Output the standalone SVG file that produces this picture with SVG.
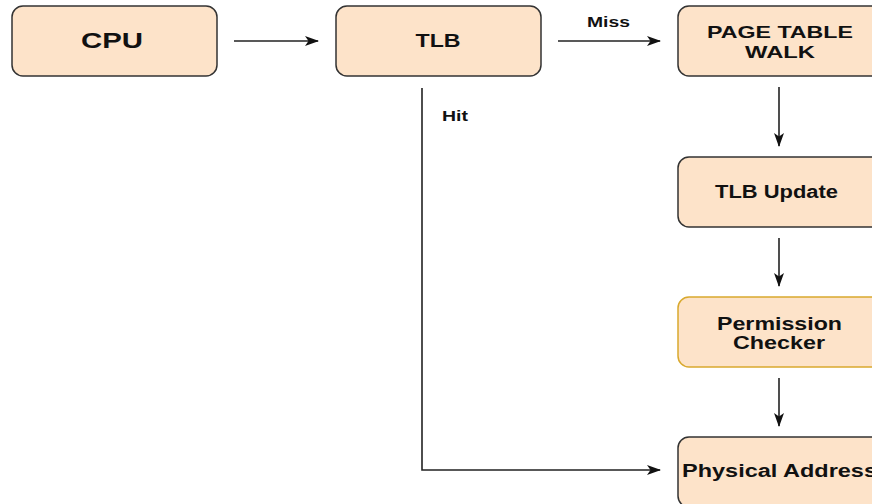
<svg xmlns="http://www.w3.org/2000/svg" width="872" height="504" viewBox="0 0 872 504">
<defs>
<marker id="ah" viewBox="0 0 14 10" refX="13" refY="5" markerWidth="14" markerHeight="10" markerUnits="userSpaceOnUse" orient="auto">
<path d="M0,0 L14,5 L0,10 L3.5,5 Z" fill="#111"/>
</marker>
<style>
.box{fill:#fde3c9;stroke:#333;stroke-width:1.5}
.boxy{fill:#fde3c9;stroke:#d9a92e;stroke-width:1.5}
.t{font-family:"Liberation Sans",Arial,sans-serif;font-weight:bold;fill:#111;text-anchor:middle}
.lbl{font-family:"Liberation Sans",Arial,sans-serif;font-weight:bold;fill:#111}
.c{fill:none;stroke:#222;stroke-width:1.6}
</style>
</defs>
<rect width="872" height="504" fill="#fff"/>
<g id="cpu">
<rect class="box" x="12" y="6" width="205" height="70" rx="11"/>
<text class="t" x="112" y="48" font-size="22" textLength="62" lengthAdjust="spacingAndGlyphs">CPU</text>
</g>
<g id="tlb">
<rect class="box" x="336" y="6" width="205" height="70" rx="11"/>
<text class="t" x="438" y="47" font-size="18" textLength="45" lengthAdjust="spacingAndGlyphs">TLB</text>
</g>
<g id="ptw">
<rect class="box" x="678" y="6" width="205" height="70" rx="11"/>
<text class="t" x="780" y="38" font-size="17" textLength="146" lengthAdjust="spacingAndGlyphs">PAGE TABLE</text>
<text class="t" x="780" y="58" font-size="17" textLength="70" lengthAdjust="spacingAndGlyphs">WALK</text>
</g>
<g id="tlbupdate">
<rect class="box" x="678" y="157" width="205" height="70" rx="11"/>
<text class="t" x="776.5" y="198" font-size="18" textLength="123" lengthAdjust="spacingAndGlyphs">TLB Update</text>
</g>
<g id="perm">
<rect class="boxy" x="678" y="297" width="205" height="70" rx="11"/>
<text class="t" x="779.5" y="330" font-size="18" textLength="125" lengthAdjust="spacingAndGlyphs">Permission</text>
<text class="t" x="779" y="349" font-size="18" textLength="92" lengthAdjust="spacingAndGlyphs">Checker</text>
</g>
<g id="phys">
<rect class="box" x="678" y="437" width="205" height="70" rx="11"/>
<text class="lbl" x="682" y="477" font-size="18" textLength="195" lengthAdjust="spacingAndGlyphs">Physical Address</text>
</g>
<g id="connectors">
<line class="c" x1="234" y1="41" x2="318" y2="41" marker-end="url(#ah)"/>
<line class="c" x1="558" y1="41" x2="660" y2="41" marker-end="url(#ah)"/>
<text class="lbl" x="587" y="27" font-size="15" textLength="43" lengthAdjust="spacingAndGlyphs">Miss</text>
<line class="c" x1="779" y1="87" x2="779" y2="146" marker-end="url(#ah)"/>
<line class="c" x1="779" y1="238" x2="779" y2="286" marker-end="url(#ah)"/>
<line class="c" x1="779" y1="378" x2="779" y2="426" marker-end="url(#ah)"/>
<polyline class="c" points="422,88 422,470 660,470" marker-end="url(#ah)"/>
<text class="lbl" x="442" y="121" font-size="15" textLength="26" lengthAdjust="spacingAndGlyphs">Hit</text>
</g>
</svg>
